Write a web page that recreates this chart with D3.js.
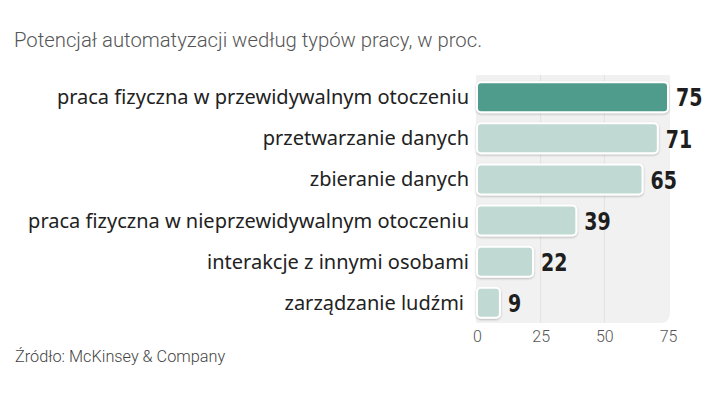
<!DOCTYPE html>
<html>
<head>
<meta charset="utf-8">
<script src="https://cdn.jsdelivr.net/npm/d3@7"></script>
<style>
  body { margin: 0; background: #fff; }
  svg { display: block; }
</style>
</head>
<body>
<div id="chart"></div>
<script>
const categories = [
  "praca fizyczna w przewidywalnym otoczeniu",
  "przetwarzanie danych",
  "zbieranie danych",
  "praca fizyczna w nieprzewidywalnym otoczeniu",
  "interakcje z innymi osobami",
  "zarządzanie ludźmi"
];
const values = [75, 71, 65, 39, 22, 9];
const ticks = [0, 25, 50, 75];

const W = 720, H = 405;

const svg = d3.select("#chart")
  .append("svg")
  .attr("width", W)
  .attr("height", H);

// shadow for bars
const defs = svg.append("defs");
const f = defs.append("filter").attr("id", "sh").attr("x", "-10%").attr("y", "-20%").attr("width", "120%").attr("height", "150%");
f.append("feDropShadow").attr("dx", 0).attr("dy", 1).attr("stdDeviation", 1).attr("flood-color", "#000").attr("flood-opacity", 0.25);

// scales
const xScale = d3.scaleLinear().domain([0, 75]).range([477, 668]);
const yScale = d3.scaleBand().domain(categories).range([76, 324]).paddingInner(0.27).paddingOuter(0.15);

// background panel, rounded bottom-right corner
const px0 = xScale(0) - 1, px1 = xScale(75) + 2, py0 = 75, py1 = 323, r = 10;
svg.append("path")
  .attr("d", `M${px0},${py0}H${px1}V${py1 - r}Q${px1},${py1} ${px1 - r},${py1}H${px0}Z`)
  .attr("fill", "#f2f1f1");

// gridlines
svg.append("g")
  .selectAll("line")
  .data([25, 50])
  .enter().append("line")
  .attr("x1", d => xScale(d)).attr("x2", d => xScale(d))
  .attr("y1", py0).attr("y2", py1)
  .attr("stroke", "#e3e1e1")
  .attr("stroke-width", 1);

// title
svg.append("text")
  .attr("x", 14).attr("y", 47)
  .attr("font-family", "Roboto, 'Noto Sans', sans-serif")
  .attr("font-weight", 300)
  .attr("font-size", 20.3)
  .attr("fill", "#555")
  .text("Potencjał automatyzacji według typów pracy, w proc.");

// bars
svg.append("g")
  .selectAll("rect")
  .data(values)
  .enter().append("rect")
  .attr("x", xScale(0))
  .attr("y", (d, i) => yScale(categories[i]))
  .attr("width", d => xScale(d) - xScale(0))
  .attr("height", yScale.bandwidth())
  .attr("rx", 4)
  .attr("fill", (d, i) => i === 0 ? "#4f9c8d" : "#c0dad3")
  .attr("stroke", "#fff")
  .attr("stroke-width", 2)
  .attr("filter", "url(#sh)");

// category labels
svg.append("g")
  .selectAll("text")
  .data(categories)
  .enter().append("text")
  .attr("x", (d, i) => i === 5 ? 464 : 469)
  .attr("y", d => yScale(d) + yScale.bandwidth() / 2)
  .attr("dy", "0.35em")
  .attr("text-anchor", "end")
  .attr("font-family", "'Noto Sans', sans-serif")
  .attr("font-size", 20)
  .attr("fill", "#222")
  .text(d => d);

// value labels (squeezed to look condensed)
svg.append("g")
  .selectAll("text")
  .data(values)
  .enter().append("text")
  .attr("transform", (d, i) => "translate(" + (xScale(d) + 8) + "," + (yScale(categories[i]) + yScale.bandwidth() / 2) + ") scale(0.76,1)")
  .attr("dy", "0.37em")
  .attr("font-family", "'DejaVu Sans', sans-serif")
  .attr("font-weight", "bold")
  .attr("font-size", 25)
  .attr("fill", "#1e1e1e")
  .text(d => d);

// x axis
const axis = svg.append("g")
  .attr("transform", "translate(0," + py1 + ")")
  .call(d3.axisBottom(xScale).tickValues(ticks).tickSize(0).tickPadding(8));
axis.select(".domain").remove();
axis.selectAll("text")
  .attr("font-family", "Roboto, 'Noto Sans', sans-serif")
  .attr("font-weight", 300)
  .attr("font-size", 16)
  .attr("fill", "#555");

// source
svg.append("text")
  .attr("x", 15).attr("y", 362)
  .attr("font-family", "Roboto, 'Noto Sans', sans-serif")
  .attr("font-weight", 300)
  .attr("font-size", 16.3)
  .attr("fill", "#444")
  .text("Źródło: McKinsey & Company");
</script>
</body>
</html>
